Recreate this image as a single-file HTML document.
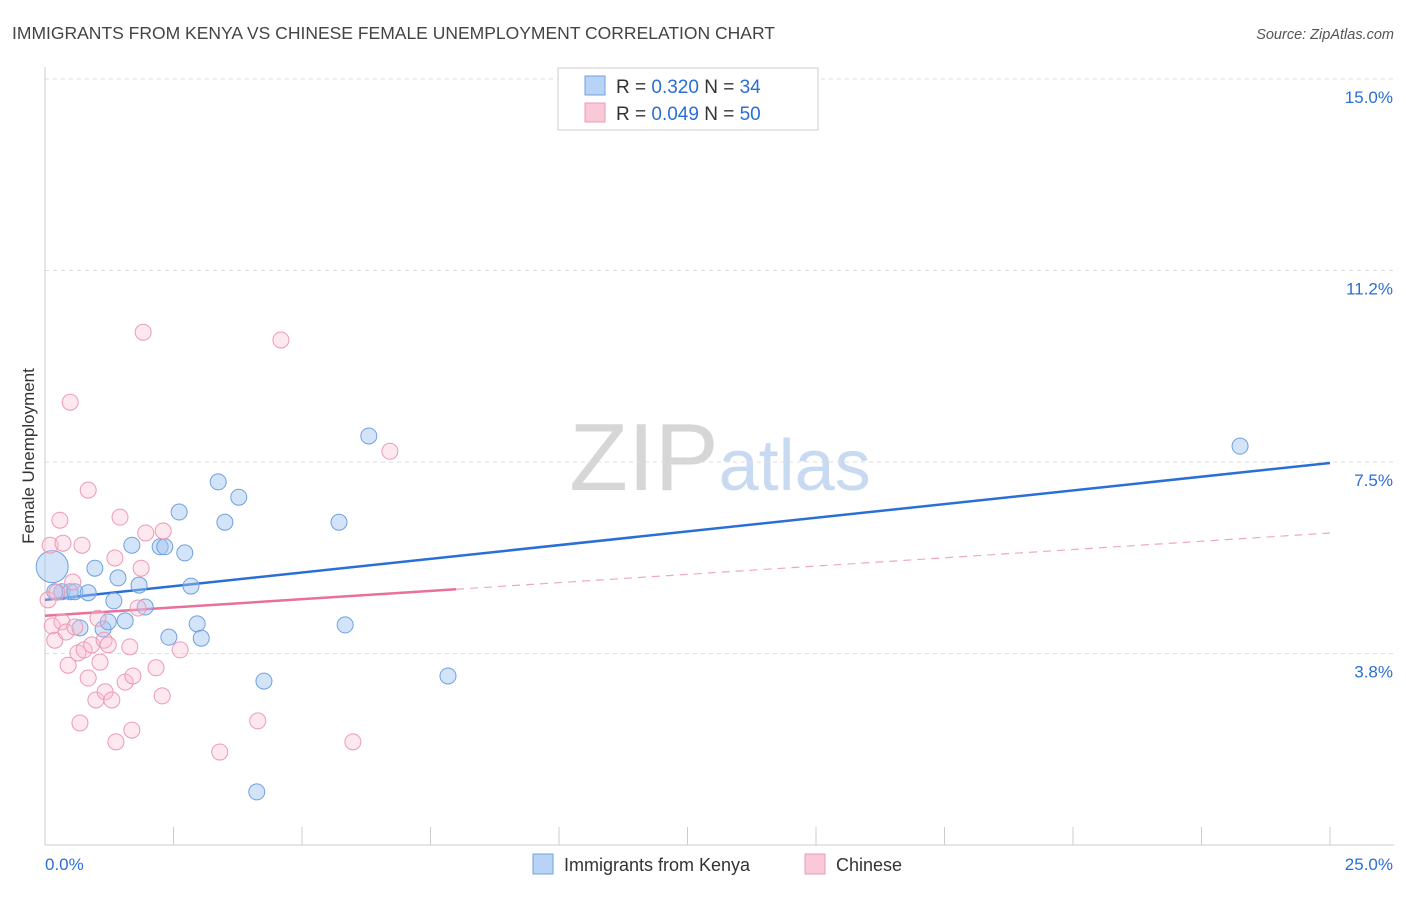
<!DOCTYPE html>
<html><head><meta charset="utf-8"><style>
body{margin:0;background:#fff;font-family:"Liberation Sans",sans-serif;}
svg text{font-family:"Liberation Sans",sans-serif;}
</style></head><body>
<svg id="chart" width="1406" height="892" viewBox="0 0 1406 892" xmlns="http://www.w3.org/2000/svg">
<text x="12" y="39" font-size="17.5" fill="#444">IMMIGRANTS FROM KENYA VS CHINESE FEMALE UNEMPLOYMENT CORRELATION CHART</text>
<text x="1394" y="39" font-size="14.5" fill="#555" font-style="italic" text-anchor="end">Source: ZipAtlas.com</text>
<text x="720" y="490" font-size="96" text-anchor="middle" font-family="Liberation Serif" fill="#ddd"><tspan fill="#d6d6d6">ZIP</tspan><tspan fill="#c8daf2" font-family="Liberation Sans" font-size="72">atlas</tspan></text>
<text transform="translate(34,456) rotate(-90)" font-size="17" fill="#333" text-anchor="middle">Female Unemployment</text>
<g id="grid"></g><g id="ticks"></g><g id="lines"></g><g id="pts"></g>
<g>
<rect x="558" y="68" width="260" height="62" fill="#fff" stroke="#ccc"/>
<rect x="585" y="76" width="20" height="19" fill="#b8d3f5" stroke="#6fa0e0"/>
<rect x="585" y="103" width="20" height="19" fill="#f9c9d8" stroke="#ec9ab4"/>
<text x="616" y="93" font-size="19" fill="#333">R = <tspan fill="#2a6fd6">0.320</tspan>   N = <tspan fill="#2a6fd6">34</tspan></text>
<text x="616" y="120" font-size="19" fill="#333">R = <tspan fill="#2a6fd6">0.049</tspan>   N = <tspan fill="#2a6fd6">50</tspan></text>
</g>
<g>
<rect x="533" y="854" width="20" height="20" fill="#b8d3f5" stroke="#6fa0e0"/>
<text x="564" y="871" font-size="18" fill="#333">Immigrants from Kenya</text>
<rect x="805" y="854" width="20" height="20" fill="#f9c9d8" stroke="#ec9ab4"/>
<text x="836" y="871" font-size="18" fill="#333">Chinese</text>
</g>
</svg>
<script>
const yTicks=[3.75,7.5,11.25,15];
const yTickLabels=["3.8%","7.5%","11.2%","15.0%"];
const xTickCount=10;
const xMin=0,xMax=25,yMin=0,yMax=15;
const kenyaX=[0.14,0.33,0.49,0.58,0.84,0.97,1.13,1.23,1.34,1.42,1.56,1.69,1.83,1.95,2.24,2.33,2.41,2.61,2.72,2.84,2.96,3.04,3.37,3.50,3.77,4.12,4.26,5.72,5.84,6.30,7.84,23.25,0.19,0.68];
const kenyaY=[5.45,4.96,4.96,4.96,4.94,5.42,4.23,4.37,4.78,5.23,4.39,5.87,5.09,4.66,5.84,5.84,4.07,6.52,5.72,5.07,4.33,4.05,7.11,6.32,6.81,1.04,3.21,6.32,4.31,8.01,3.31,7.81,4.96,4.25];
const chineseX=[0.06,0.10,0.14,0.19,0.23,0.29,0.33,0.35,0.41,0.45,0.49,0.54,0.58,0.64,0.68,0.72,0.76,0.84,0.84,0.91,0.99,1.03,1.07,1.15,1.17,1.23,1.30,1.36,1.38,1.46,1.56,1.65,1.69,1.71,1.81,1.87,1.91,1.96,2.16,2.28,2.30,2.63,3.40,4.14,4.59,5.99,6.71];
const chineseY=[4.80,5.87,4.29,4.01,4.95,6.36,4.37,5.91,4.17,3.52,8.67,5.15,4.27,3.76,2.39,5.87,3.82,6.95,3.27,3.92,2.84,4.44,3.58,4.01,3.00,3.92,2.84,5.62,2.02,6.42,3.19,3.88,2.25,3.31,4.64,5.42,10.04,6.11,3.47,2.92,6.15,3.82,1.82,2.43,9.89,2.02,7.71];
const kenyaTrend=[4.80,7.48];
const chineseTrend=[4.49,6.11];
const chineseSolidEnd=8.0;
const NS="http://www.w3.org/2000/svg";
const L=45,R=1330,T=79,B=845;
const sx=v=>L+(v-xMin)/(xMax-xMin)*(R-L);
const sy=v=>B-(v-yMin)/(yMax-yMin)*(B-T);
function mk(tag,attrs,parent){const e=document.createElementNS(NS,tag);for(const k in attrs)e.setAttribute(k,attrs[k]);document.getElementById(parent).appendChild(e);return e;}
const ax=mk('line',{x1:L,y1:67,x2:L,y2:B,stroke:'#ccc'},'ticks');


const bx=mk('line',{x1:L,y1:B,x2:1394,y2:B,stroke:'#ccc'},'ticks');


yTicks.forEach((v,i)=>{
 const g=mk('line',{x1:L,y1:sy(v),x2:1394,y2:sy(v),stroke:'#ddd','stroke-dasharray':'4,4'},'grid');
 
 
 const t=mk('text',{x:1393,y:sy(v)+24,'font-size':17,fill:'#2a6fd6','text-anchor':'end'},'ticks');
 t.textContent=yTickLabels[i];
 
 
});
for(let i=1;i<=xTickCount;i++){
 const x=sx(xMin+(xMax-xMin)*i/xTickCount);
 const tk=mk('line',{x1:x,y1:B,x2:x,y2:B-18,stroke:'#ccc'},'ticks');
 
 
}
const x0=mk('text',{x:45,y:870,'font-size':17,fill:'#2a6fd6'},'ticks');x0.textContent='0.0%';


const x1=mk('text',{x:1393,y:870,'font-size':17,fill:'#2a6fd6','text-anchor':'end'},'ticks');x1.textContent='25.0%';


const lerp=(tr,x)=>tr[0]+(tr[1]-tr[0])*(x-xMin)/(xMax-xMin);
kenyaX.forEach((x,i)=>{
 const c=mk('circle',{cx:sx(x),cy:sy(kenyaY[i]),r:i===0?16:8,fill:'rgba(160,196,240,0.45)',stroke:'#6fa0e0','stroke-width':1},'pts');
 
 
});
chineseX.forEach((x,i)=>{
 const c=mk('circle',{cx:sx(x),cy:sy(chineseY[i]),r:8,fill:'rgba(248,190,210,0.35)',stroke:'#ec9ab4','stroke-width':1},'pts');
 
 
});
const kl=mk('line',{x1:sx(xMin),y1:sy(kenyaTrend[0]),x2:sx(xMax),y2:sy(kenyaTrend[1]),stroke:'#2a6fd6','stroke-width':2.5},'lines');


const cl=mk('line',{x1:sx(xMin),y1:sy(chineseTrend[0]),x2:sx(chineseSolidEnd),y2:sy(lerp(chineseTrend,chineseSolidEnd)),stroke:'#e8709a','stroke-width':2.5},'lines');


const cd=mk('line',{x1:sx(chineseSolidEnd),y1:sy(lerp(chineseTrend,chineseSolidEnd)),x2:sx(xMax),y2:sy(chineseTrend[1]),stroke:'#f0a8c0','stroke-width':1.2,'stroke-dasharray':'8,6'},'lines');


</script>
</body></html>
